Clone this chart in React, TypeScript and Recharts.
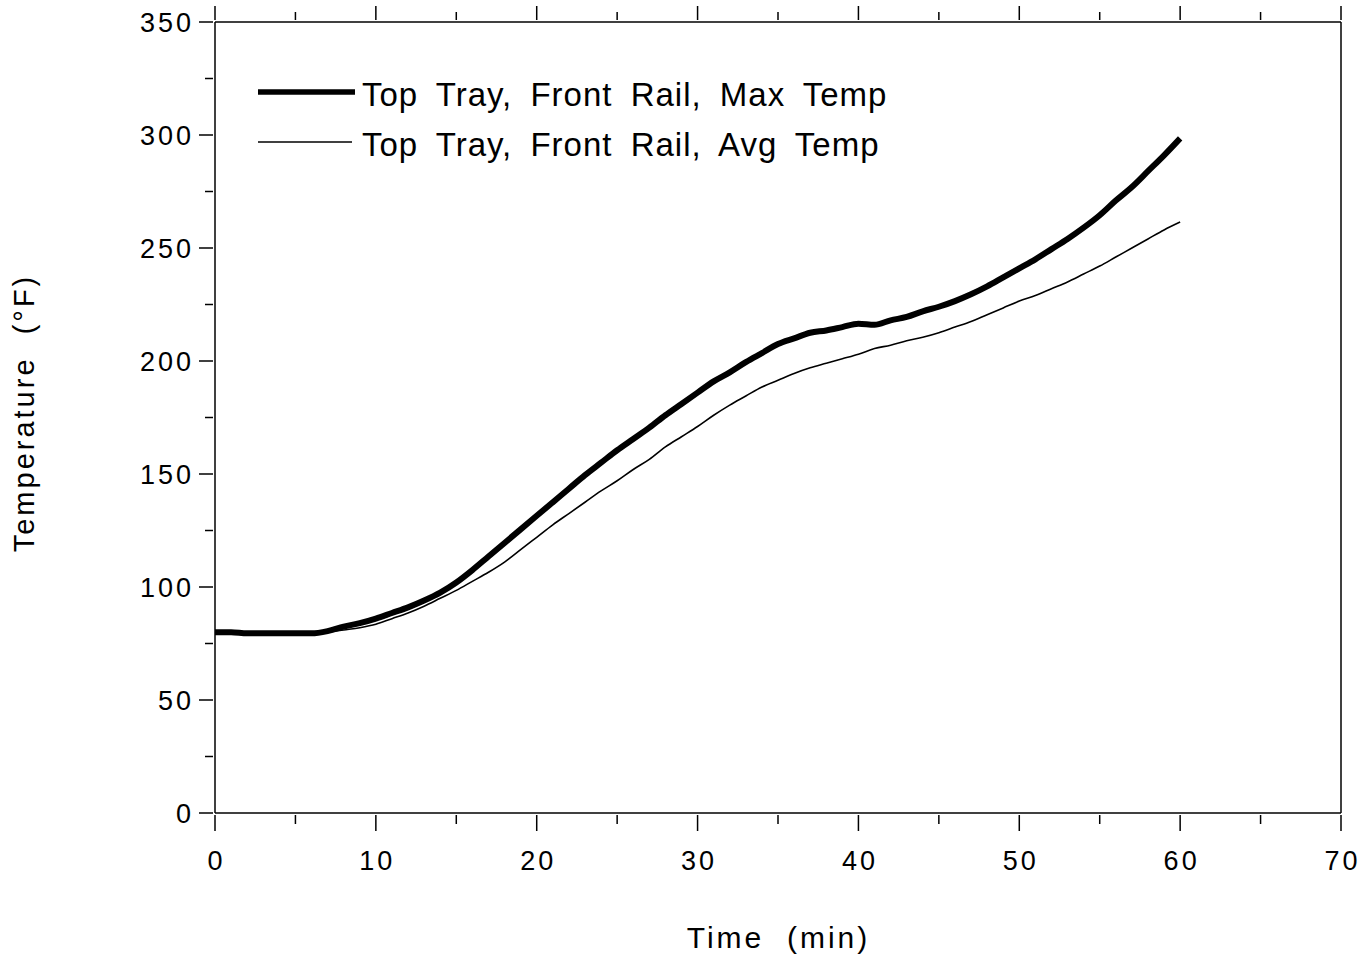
import { LineChart, Line, XAxis, YAxis, Legend } from 'recharts';

const FONT = '"Liberation Sans", Arial, Helvetica, sans-serif';

// time in minutes
const minutes = [
  0, 1, 2, 3, 4, 5, 6, 7, 8, 9, 10, 11, 12, 13, 14, 15, 16, 17, 18, 19, 20,
  21, 22, 23, 24, 25, 26, 27, 28, 29, 30, 31, 32, 33, 34, 35, 36, 37, 38, 39, 40,
  41, 42, 43, 44, 45, 46, 47, 48, 49, 50, 51, 52, 53, 54, 55, 56, 57, 58, 59, 60,
];

// Top Tray, Front Rail, Max Temp (°F)
const maxTemp = [
  80, 80, 79.5, 79.5, 79.5, 79.5, 79.5, 80.5, 82.5, 84, 86,
  88.5, 91, 94, 97.5, 102, 107.5, 113.5, 119.5, 125.5, 131.5,
  137.5, 143.5, 149.5, 155, 160.5, 165.5, 170.5, 176, 181, 186,
  191, 195, 199.5, 203.5, 207.5, 210, 212.5, 213.5, 215, 216.5,
  216, 218, 219.5, 222, 224, 226.5, 229.5, 233, 237, 241,
  245, 249.5, 254, 259, 264.5, 271, 277, 284, 291, 298.5,
];

// Top Tray, Front Rail, Avg Temp (°F)
const avgTemp = [
  79.5, 79.5, 79, 79, 79, 79, 79, 80, 81, 82, 83.5,
  86, 88.5, 91.5, 95, 98.5, 102.5, 106.5, 111, 116.5, 122,
  127.5, 132.5, 137.5, 142.5, 147, 152, 156.5, 162, 166.5, 171,
  176, 180.5, 184.5, 188.5, 191.5, 194.5, 197, 199, 201, 203,
  205.5, 207, 209, 210.5, 212.5, 215, 217.5, 220.5, 223.5, 226.5,
  229, 232, 235, 238.5, 242, 246, 250, 254, 258, 261.5,
];

const xTicks = [0, 5, 10, 15, 20, 25, 30, 35, 40, 45, 50, 55, 60, 65, 70];
const yTicks = [0, 25, 50, 75, 100, 125, 150, 175, 200, 225, 250, 275, 300, 325, 350];

const seriesNames = ['Top Tray, Front Rail, Max Temp', 'Top Tray, Front Rail, Avg Temp'];

const data = minutes.map((t, i) => ({ t, max: maxTemp[i], avg: avgTemp[i] }));

const LS = 3;

const BottomTick = ({ x, y, payload }: any) => {
  const major = payload.value % 10 === 0;
  return (
    <g>
      <line x1={x} y1={y} x2={x} y2={y + (major ? 16 : 9)} stroke="#000" strokeWidth={1.5} />
      {major && (
        <text x={x + LS / 2} y={y + 55} textAnchor="middle" fontSize={27} fontFamily={FONT}
          style={{ letterSpacing: LS }} fill="#000">
          {payload.value}
        </text>
      )}
    </g>
  );
};

const TopTick = ({ x, y, payload }: any) => {
  const major = payload.value % 10 === 0;
  return <line x1={x} y1={y} x2={x} y2={y - (major ? 14 : 8)} stroke="#000" strokeWidth={1.5} />;
};

const LeftTick = ({ x, y, payload }: any) => {
  const major = payload.value % 50 === 0;
  return (
    <g>
      <line x1={x} y1={y} x2={x - (major ? 14 : 8)} y2={y} stroke="#000" strokeWidth={1.5} />
      {major && (
        <text x={x - 22 + LS} y={y + 10} textAnchor="end" fontSize={27} fontFamily={FONT}
          style={{ letterSpacing: LS }} fill="#000">
          {payload.value}
        </text>
      )}
    </g>
  );
};

const RightTick = ({ x, y, payload }: any) => {
  const major = payload.value % 50 === 0;
  return <line x1={x} y1={y} x2={x + (major ? 14 : 8)} y2={y} stroke="#000" strokeWidth={1.5} />;
};

const LegendBox = () => (
  <div style={{ position: 'relative', height: 0 }}>
    <svg width={700} height={180} style={{ position: 'absolute', left: 0, top: 0, overflow: 'visible' }}>
      <line x1={258} y1={92} x2={355} y2={92} stroke="#000" strokeWidth={5.5} />
      <line x1={258} y1={142} x2={352} y2={142} stroke="#000" strokeWidth={1.5} />
      <text x={362} y={106} fontSize={33} fontFamily={FONT} fill="#000"
        style={{ letterSpacing: 1, wordSpacing: 8 }}>{seriesNames[0]}</text>
      <text x={362} y={156} fontSize={33} fontFamily={FONT} fill="#000"
        style={{ letterSpacing: 1, wordSpacing: 8 }}>{seriesNames[1]}</text>
    </svg>
  </div>
);

export default function App() {
  return (
    <div style={{ position: 'absolute', left: 0, top: 0, width: 1364, height: 963, background: '#fff' }}>
      <LineChart width={1364} height={963} data={data} margin={{ top: 21, right: 22, bottom: 0, left: 0 }}>
        <XAxis
          xAxisId="bottom"
          dataKey="t"
          type="number"
          domain={[0, 70]}
          ticks={xTicks}
          interval={0}
          height={150}
          tickSize={0}
          tickLine={false}
          tick={<BottomTick />}
          axisLine={{ stroke: '#000', strokeWidth: 1.5 }}
          label={() => (
            <text x={777 + 1.5} y={948} textAnchor="middle" fontSize={30} fontFamily={FONT}
              style={{ letterSpacing: 3 }} fill="#000">
              {'Time\u00A0 (min)'}
            </text>
          )}
        />
        <XAxis
          xAxisId="top"
          orientation="top"
          dataKey="t"
          type="number"
          domain={[0, 70]}
          ticks={xTicks}
          interval={0}
          height={1}
          tickSize={0}
          tickLine={false}
          tick={<TopTick />}
          axisLine={{ stroke: '#000', strokeWidth: 1.5 }}
        />
        <YAxis
          yAxisId="left"
          type="number"
          domain={[0, 350]}
          ticks={yTicks}
          interval={0}
          width={215}
          tickSize={0}
          tickLine={false}
          tick={<LeftTick />}
          axisLine={{ stroke: '#000', strokeWidth: 1.5 }}
          label={() => (
            <text x={34} y={413} transform="rotate(-90, 34, 413)" textAnchor="middle" fontSize={29}
              fontFamily={FONT} style={{ letterSpacing: 3 }} fill="#000">
              {'Temperature\u00A0 (°F)'}
            </text>
          )}
        />
        <YAxis
          yAxisId="right"
          orientation="right"
          type="number"
          domain={[0, 350]}
          ticks={yTicks}
          interval={0}
          width={1}
          tickSize={0}
          tickLine={false}
          tick={<RightTick />}
          axisLine={{ stroke: '#000', strokeWidth: 1.5 }}
        />
        <Legend
          verticalAlign="top"
          content={<LegendBox />}
          wrapperStyle={{ position: 'absolute', left: 0, top: 0, width: 0, height: 0 }}
        />
        <Line
          xAxisId="bottom"
          yAxisId="left"
          type="monotone"
          dataKey="max"
          name={seriesNames[0]}
          stroke="#000"
          strokeWidth={6}
          dot={false}
          isAnimationActive={false}
        />
        <Line
          xAxisId="bottom"
          yAxisId="left"
          type="monotone"
          dataKey="avg"
          name={seriesNames[1]}
          stroke="#000"
          strokeWidth={1.6}
          dot={false}
          isAnimationActive={false}
        />
      </LineChart>
    </div>
  );
}
